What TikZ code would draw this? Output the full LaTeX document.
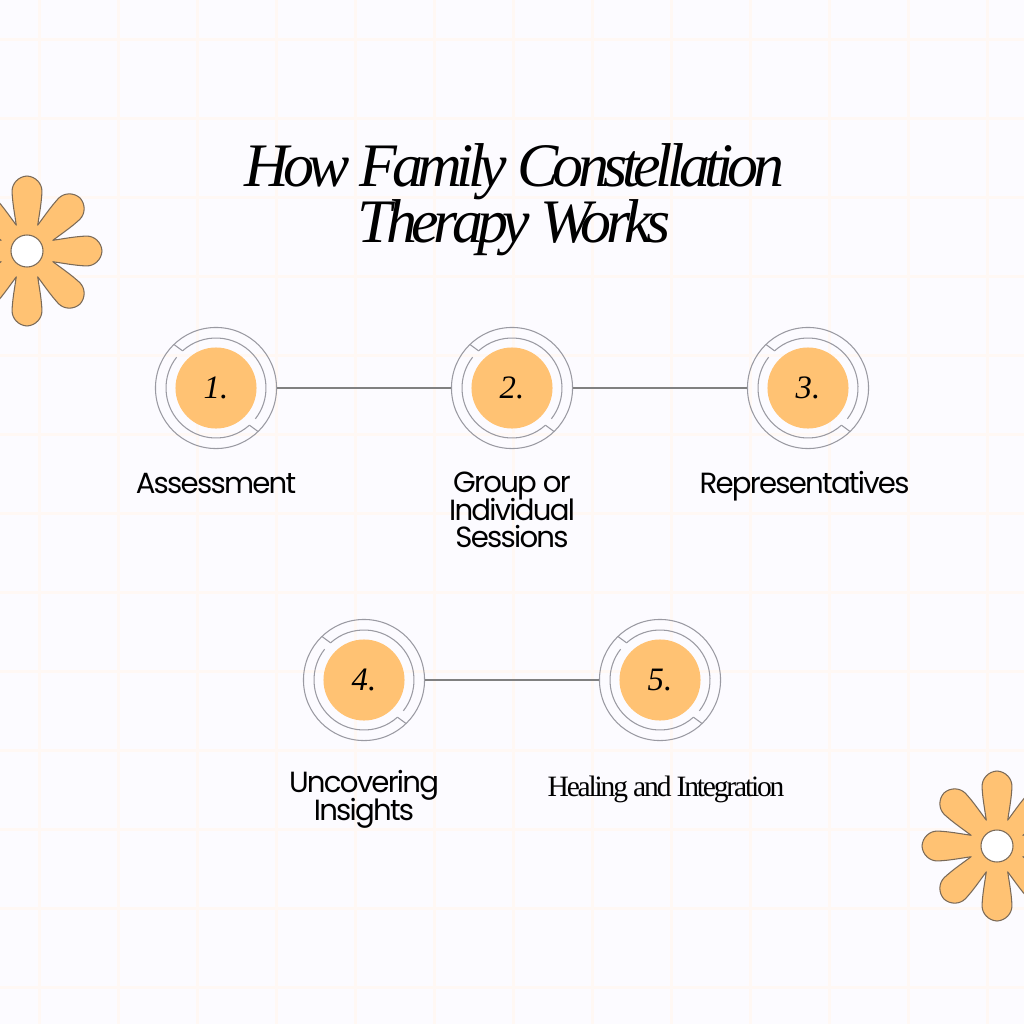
\documentclass[tikz,border=0pt]{standalone}
\usepackage{fontspec}
\setmainfont{Liberation Serif}
\newfontfamily\titlefont[LetterSpace=-9]{Liberation Serif}
\newfontfamily\labelfont[LetterSpace=-6]{Poppins}
\newfontfamily\healfont[LetterSpace=-7.4]{Liberation Serif}
\definecolor{paper}{HTML}{FCFBFF}
\definecolor{gridline}{HTML}{FFF8F4}
\definecolor{petal}{HTML}{FFC273}
\definecolor{petaledge}{HTML}{7A6A58}
\definecolor{ringgray}{HTML}{9A9AA2}
\tikzset{
    ringnode/.style = {circle, draw = ringgray, line width = 0.3pt, minimum size = 1.21cm, inner sep = 0pt},
    disknode/.style = {circle, fill = petal, minimum size = 0.81cm, inner sep = 0pt, font = \fontsize{9.3}{11}\selectfont\itshape},
    ringline/.style = {draw = ringgray, line width = 0.3pt},
    linkline/.style = {draw = gray, line width = 0.35pt},
    titlenode/.style = {align = center, font = {\fontsize{17.6}{16}\titlefont\itshape\lineskiplimit=-20pt\relax}},
    labelnode/.style = {align = center, font = {\fontsize{8.3}{7.9}\labelfont\lineskiplimit=-20pt\relax}},
    healnode/.style = {font = \fontsize{8.4}{8}\healfont}
}
\begin{document}
\begin{tikzpicture}[x = 0.01cm, y = 0.01cm]
    \useasboundingbox (0,0) rectangle (1024,-1024);
    \fill[paper] (0,0) rectangle (1024,-1024);
    \foreach \g in {39.5,118.5,...,988} {
        \draw[gridline, line width = 0.8pt] (\g,0) -- (\g,-1024);
        \draw[gridline, line width = 0.8pt] (0,-\g) -- (1024,-\g);
    }
    % flowers
    \foreach \fx/\fy in {27/-251,997/-846} {
        \begin{scope}[shift = {(\fx,\fy)}]
            \draw[fill = petal, draw = petaledge, line width = 0.3pt, line join = round] (-22.5:28)
                \foreach \a in {0,45,...,315} {
                    .. controls ({\a-18.2}:40) and ({\a-16.8}:50.1) .. ({\a-14.1}:61.4)
                    .. controls ({\a-12.5}:69.4) and ({\a-6.4}:75) .. (\a:75)
                    .. controls ({\a+6.4}:75) and ({\a+12.5}:69.4) .. ({\a+14.1}:61.4)
                    .. controls ({\a+16.8}:50.1) and ({\a+18.2}:40) .. ({\a+22.5}:28)
                } -- cycle;
            \draw[fill = white, draw = petaledge, line width = 0.3pt] (0,0) circle (16);
        \end{scope}
    }
    \node[titlenode] (title) at (514,-200) {How Family Constellation\\Therapy Works};
    % steps
    \foreach \n/\sx/\sy in {1/216/-388,2/512/-388,3/808/-388,4/364/-680,5/660/-680} {
        \node[ringnode] (ring\n) at (\sx,\sy) {};
        \node[disknode] (disk\n) at (\sx,\sy) {\n.};
        \draw[ringline] ([shift = {(132:50)}]ring\n.center) arc (132:-38:50);
        \draw[ringline] ([shift = {(-48:50)}]ring\n.center) arc (-48:-218:50);
        \draw[ringline] ([shift = {(132:50)}]ring\n.center) -- ([shift = {(134:60.5)}]ring\n.center);
        \draw[ringline] ([shift = {(-48:50)}]ring\n.center) -- ([shift = {(-46:60.5)}]ring\n.center);
    }
    \draw[linkline] (ring1) -- (ring2);
    \draw[linkline] (ring2) -- (ring3);
    \draw[linkline] (ring4) -- (ring5);
    \node[labelnode] (assess) at (216,-484) {Assessment};
    \node[labelnode] (group) at (512,-510) {Group or\\Individual\\Sessions};
    \node[labelnode] (repr) at (804.5,-486) {Representatives};
    \node[labelnode] (insight) at (364,-799) {Uncovering\\Insights};
    \node[healnode] (heal) at (666,-789) {Healing and Integration};
\end{tikzpicture}
\end{document}
